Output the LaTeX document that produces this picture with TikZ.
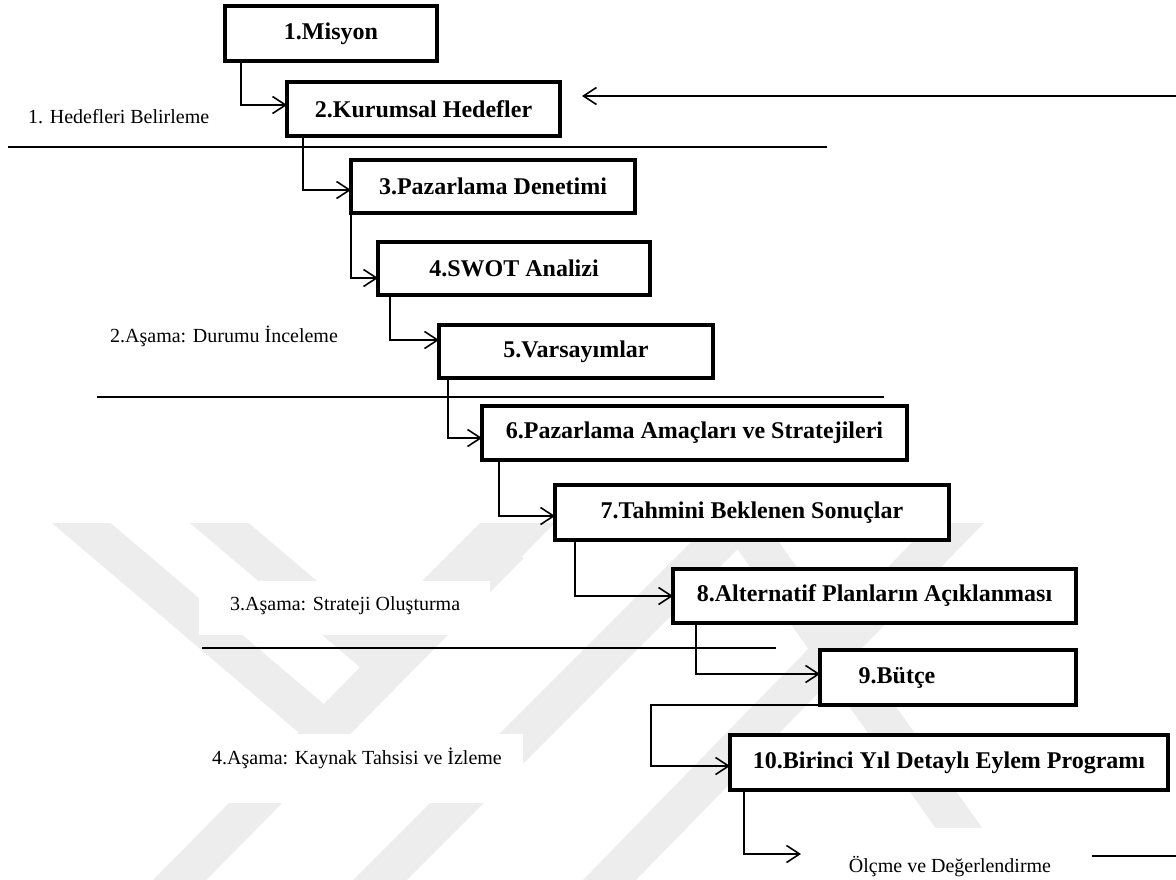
\documentclass[tikz,border=0pt]{standalone}
\usepackage{fontspec}
\setmainfont{Liberation Serif}
\usetikzlibrary{arrows.meta}
\begin{document}
\begin{tikzpicture}[x=1pt,y=-1pt,
  box/.style={draw, line width=4pt, fill=white, inner sep=0pt, outer sep=0pt,
    font=\fontsize{24}{28}\selectfont\bfseries},
  conn/.style={line width=1.6pt, -{Straight Barb[length=13pt,width=17pt,line width=1.6pt]}},
  plainline/.style={line width=1.8pt},
  lbl/.style={font=\fontsize{20}{24}\selectfont, inner sep=0pt, anchor=base west},
  wm/.style={draw=black!7, line width=38pt, line cap=butt, line join=miter}
]
\useasboundingbox (0,0) rectangle (1176,880);
% watermark
\begin{scope}
\clip (0,523) rectangle (1176,880);
\draw[wm] (60,505) -- (325,730) -- (590,460);
\draw[wm] (198,505) -- (375,655) -- (535,495);
\draw[wm] (160,900) -- (510,545);
\draw[wm] (360,900) -- (740,520) -- (1010,900);
\draw[wm] (590,900) -- (975,505);
\end{scope}
% white label backgrounds
\fill[white] (199,581) rectangle (490,635);
\fill[white] (199,734) rectangle (523,803);
\fill[white] (811,828) rectangle (1088,880);
% boxes
\node[box, minimum width=212, minimum height=55] (b1) at (331,33.5) {1.Misyon};
\node[box, minimum width=273, minimum height=54] (b2) at (423.5,109) {2.Kurumsal Hedefler};
\node[box, minimum width=284, minimum height=53] (b3) at (493,186.5) {3.Pazarlama Denetimi};
\node[box, minimum width=272, minimum height=53] (b4) at (514,268.5) {4.SWOT Analizi};
\node[box, minimum width=274, minimum height=53] (b5) at (576,351.5) {5.Varsayımlar};
\node[box, minimum width=425, minimum height=54] (b6) at (694.5,433) {6.Pazarlama Amaçları ve Stratejileri};
\node[box, minimum width=394, minimum height=55] (b7) at (752,512.5) {7.Tahmini Beklenen Sonuçlar};
\node[box, minimum width=403, minimum height=54] (b8) at (874.5,596) {8.Alternatif Planların Açıklanması};
\node[box, minimum width=256, minimum height=55] (b9) at (948,677.5) {9.Bütçe\hspace*{102pt}};
\node[box, minimum width=438, minimum height=55] (b10) at (949,762.5) {10.Birinci Yıl Detaylı Eylem Programı};
% labels
\node[lbl] (l1) at (28,124) {1. Hedefleri Belirleme};
\node[lbl] (l2) at (110,342) {2.Aşama: Durumu İnceleme};
\node[lbl] (l3) at (230,610) {3.Aşama: Strateji Oluşturma};
\node[lbl] (l4) at (212,764) {4.Aşama: Kaynak Tahsisi ve İzleme};
\node[lbl, anchor=base] (ol) at (950,872) {Ölçme ve Değerlendirme};
% dividers
\draw[plainline] (8,147) -- (827,147);
\draw[plainline] (97,397) -- (884,397);
\draw[plainline] (202,648) -- (776,648);
% connectors
\draw[conn] ([xshift=16pt]b1.south west) |- ([yshift=4pt]b2.west);
\draw[conn] ([xshift=16pt]b2.south west) |- ([yshift=-3.5pt]b3.west);
\draw[conn] ([xshift=0pt]b3.south west) |- ([yshift=-9.5pt]b4.west);
\draw[conn] ([xshift=12pt]b4.south west) |- ([yshift=11.5pt]b5.west);
\draw[conn] ([xshift=9pt]b5.south west) |- ([yshift=-5pt]b6.west);
\draw[conn] ([xshift=17pt]b6.south west) |- ([yshift=-3.5pt]b7.west);
\draw[conn] ([xshift=20pt]b7.south west) |- (b8.west);
\draw[conn] ([xshift=23pt]b8.south west) |- ([yshift=3.5pt]b9.west);
\draw[conn] (b9.south west) -- ++(-169,0) |- ([yshift=-3.5pt]b10.west);
\coordinate (oltip) at (801,854);
\draw[conn] ([xshift=14pt]b10.south west) |- (oltip);
\coordinate (rin) at (1176,96);
\draw[conn, shorten >=22pt] (rin) -- (rin -| b2.east);
\coordinate (olr1) at (1092,856);
\coordinate (olr2) at (1176,856);
\draw[plainline] (olr1) -- (olr2);
\end{tikzpicture}
\end{document}
